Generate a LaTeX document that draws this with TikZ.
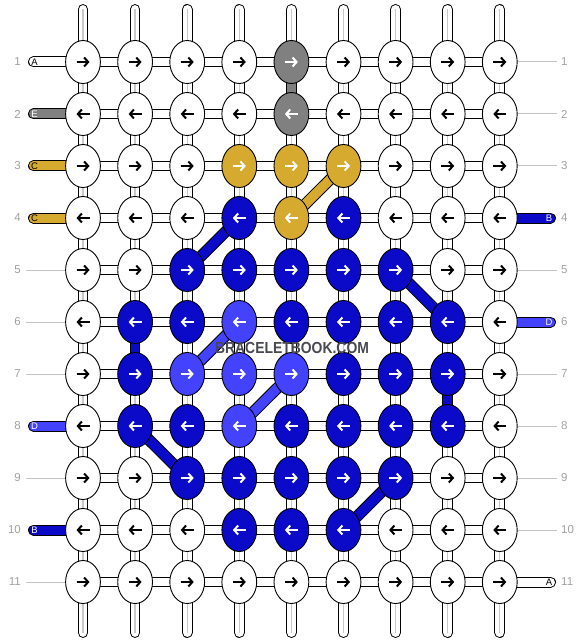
\documentclass[tikz,border=0pt]{standalone}
\usepackage{fontspec}
\setmainfont{Liberation Sans}
\usepackage{graphicx}
\usetikzlibrary{shapes.geometric,arrows.meta}
\pgfdeclarelayer{bg}
\pgfsetlayers{bg,main}
\definecolor{cW}{RGB}{255,255,255}
\definecolor{cG}{RGB}{128,128,128}
\definecolor{cY}{RGB}{214,170,46}
\definecolor{cB}{RGB}{10,10,200}
\definecolor{cD}{RGB}{66,66,255}
\definecolor{numgray}{RGB}{160,160,160}
\definecolor{linegray}{RGB}{195,195,195}
\definecolor{tubegray}{RGB}{200,200,200}
\definecolor{wm}{RGB}{72,72,82}
\tikzset{
  knot/.style={ellipse, draw=black, line width=0.9pt, minimum width=34.8pt, minimum height=43pt, inner sep=0pt},
  arr/.style={line width=2pt, -{Straight Barb[length=4pt,width=9pt]}},
  aW/.style={draw=black}, aG/.style={draw=white}, aY/.style={draw=white},
  aB/.style={draw=white}, aD/.style={draw=white},
  tubeout/.style={line width=10.7pt, line cap=round, draw=black},
  tubein/.style={line width=8.7pt, line cap=round, draw=white},
  tubecore/.style={line width=1.3pt, draw=tubegray},
  hout/.style={line width=10.5pt, draw=black},
  hin/.style={line width=8.5pt, draw=white},
  vout/.style={line width=10.7pt, draw=black},
  dout/.style={line width=11.5pt, draw=black},
  lout/.style={line width=11pt, line cap=round, draw=black},
  rownum/.style={text=numgray, font=\fontsize{11.5}{11.5}\selectfont, inner sep=0pt},
  letter/.style={font=\fontsize{9.5}{9.5}\selectfont, inner sep=0pt},
  thin/.style={line width=1pt, draw=linegray},
  wmtext/.style={font=\bfseries\fontsize{16}{16}\selectfont, inner sep=0pt}
}
\begin{document}
\begin{tikzpicture}[x=1pt,y=-1pt]
\useasboundingbox (0,0) rectangle (584,644);
% knots
\foreach \rw/\row in {1/{W,W,W,W,G,W,W,W,W}, 2/{W,W,W,W,G,W,W,W,W}, 3/{W,W,W,Y,Y,Y,W,W,W}, 4/{W,W,W,B,Y,B,W,W,W}, 5/{W,W,B,B,B,B,B,W,W}, 6/{W,B,B,D,B,B,B,B,W}, 7/{W,B,D,D,D,B,B,B,W}, 8/{W,B,B,D,B,B,B,B,W}, 9/{W,W,B,B,B,B,B,W,W}, 10/{W,W,W,B,B,B,W,W,W}, 11/{W,W,W,W,W,W,W,W,W}}{
  \foreach \kc [count=\col] in \row {
    \node[knot, fill=c\kc] (k-\rw-\col) at ({83+(\col-1)*52.1},{62+(\rw-1)*52}) {};
    \ifodd\rw\relax \def\ad{1}\else \def\ad{-1}\fi
    \draw[arr, a\kc, shift={(k-\rw-\col.center)}] ({-6.5*\ad},0) -- ({6.5*\ad},0);
  }
}
% row numbers
\foreach \rw in {1,...,11}{
  \node[rownum, anchor=east] (nl\rw) at (21,{62+(\rw-1)*52}) {\rw};
  \node[rownum, anchor=west] (nr\rw) at (561,{62+(\rw-1)*52}) {\rw};
}
\begin{pgfonlayer}{bg}
% vertical strings
\foreach \col in {1,...,9}{
  \coordinate (top\col) at ({83+(\col-1)*52.1},9.4);
  \coordinate (bot\col) at ({83+(\col-1)*52.1},632.6);
  \draw[tubeout] (top\col) -- (bot\col);
  \draw[tubein] (top\col) -- (bot\col);
  \draw[tubecore] (top\col) -- (bot\col);
}
% horizontal connectors
\foreach \rw in {1,...,11}{
  \foreach \col [evaluate=\col as \nx using int(\col+1)] in {1,...,8}{
    \draw[hout] (k-\rw-\col.center) -- (k-\rw-\nx.center);
    \draw[hin] (k-\rw-\col.center) -- (k-\rw-\nx.center);
  }
}
% coloured vertical connectors
\foreach \ra/\rb/\col/\cl in {1/2/5/cG, 6/7/2/cB, 7/8/8/cB}{
  \draw[vout] (k-\ra-\col.center) -- (k-\rb-\col.center);
  \draw[line width=8.7pt, draw=\cl] (k-\ra-\col.center) -- (k-\rb-\col.center);
}
% diagonal connectors
\foreach \ra/\ca/\rb/\cb/\cl in {3/6/4/5/cY, 4/4/5/3/cB, 5/7/6/8/cB, 6/4/7/3/cD, 7/5/8/4/cD, 8/2/9/3/cB, 9/7/10/6/cB}{
  \draw[dout] (k-\ra-\ca.center) -- (k-\rb-\cb.center);
  \draw[line width=9.5pt, draw=\cl] (k-\ra-\ca.center) -- (k-\rb-\cb.center);
}
% left label strings
\foreach \rw/\cl in {1/cW, 2/cG, 3/cY, 4/cY, 8/cD, 10/cB}{
  \coordinate (le\rw) at (33.5,{62+(\rw-1)*52});
  \draw[lout] (le\rw) -- (k-\rw-1.center);
  \draw[line width=9pt, line cap=round, draw=\cl] (le\rw) -- (k-\rw-1.center);
}
% right label strings
\foreach \rw/\cl in {4/cB, 6/cD, 11/cW}{
  \coordinate (re\rw) at (550.5,{62+(\rw-1)*52});
  \draw[lout] (k-\rw-9.center) -- (re\rw);
  \draw[line width=9pt, line cap=round, draw=\cl] (k-\rw-9.center) -- (re\rw);
}
% plain guide lines
\foreach \rw in {5,6,7,9,11}{
  \coordinate (lg\rw) at (26,{62+(\rw-1)*52});
  \draw[thin] (lg\rw) -- (k-\rw-1.west);
}
\foreach \rw in {1,2,3,5,7,8,9,10}{
  \coordinate (rg\rw) at (557,{62+(\rw-1)*52});
  \draw[thin] (k-\rw-9.east) -- (rg\rw);
}
\end{pgfonlayer}
% letters on label strings
\foreach \rw/\lt/\tc in {1/A/black, 2/E/white, 3/C/black, 4/C/black, 8/D/white, 10/B/white}{
  \node[letter, text=\tc] (ll\rw) at (34.5,{62+(\rw-1)*52}) {\lt};
}
\foreach \rw/\lt/\tc in {4/B/white, 6/D/white, 11/A/black}{
  \node[letter, text=\tc] (rl\rw) at (549,{62+(\rw-1)*52}) {\lt};
}
% watermark
\node[wmtext, text=wm] (wmark) at (292,347.5) {\scalebox{0.87}[1]{BRACELETBOOK.COM}};
\end{tikzpicture}
\end{document}
